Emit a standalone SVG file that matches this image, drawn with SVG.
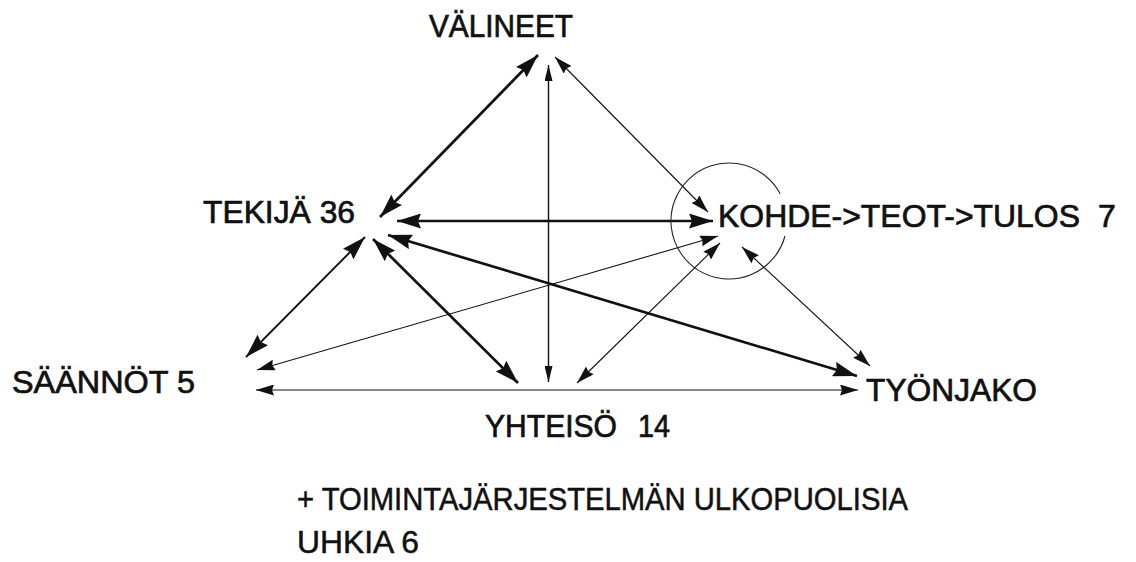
<svg xmlns="http://www.w3.org/2000/svg" width="1136" height="562" viewBox="0 0 1136 562">
  <style>
    .lbl { font-family: "Liberation Sans", Arial, sans-serif; font-size: 32px; fill: #111; stroke: #111; stroke-width: 0.7px; }
    .note { font-family: "Liberation Sans", Arial, sans-serif; font-size: 31px; fill: #111; stroke: #111; stroke-width: 0.5px; }
    .edge { stroke: #111; fill: none; }
    .heavy { stroke-width: 2.7; marker-start: url(#bigHead); marker-end: url(#bigHead); }
    .medium { stroke-width: 1.9; marker-start: url(#bigHead); marker-end: url(#bigHead); }
    .light { stroke-width: 1.1; marker-start: url(#midHead); marker-end: url(#midHead); }
    .stem { stroke-width: 1.4; marker-start: url(#slimHead); marker-end: url(#slimHead); }
    .ring { stroke: #222; stroke-width: 1.1; fill: none; }
  </style>
  <defs>
    <marker id="bigHead" viewBox="0 0 24 15" refX="24" refY="7.5" markerWidth="24" markerHeight="15" markerUnits="userSpaceOnUse" orient="auto-start-reverse">
      <path d="M0,0 L24,7.5 L0,15 L3,7.5 z" fill="#111"/>
    </marker>
    <marker id="midHead" viewBox="0 0 18 11" refX="18" refY="5.5" markerWidth="18" markerHeight="11" markerUnits="userSpaceOnUse" orient="auto-start-reverse">
      <path d="M0,0 L18,5.5 L0,11 L2,5.5 z" fill="#111"/>
    </marker>
    <marker id="slimHead" viewBox="0 0 16 8" refX="16" refY="4" markerWidth="16" markerHeight="8" markerUnits="userSpaceOnUse" orient="auto-start-reverse">
      <path d="M0,0 L16,4 L0,8 z" fill="#111"/>
    </marker>
  </defs>
  <rect width="1136" height="562" fill="#fff"/>

  <g id="connectors">
    <!-- TEKIJÄ <-> VÄLINEET -->
    <line class="edge heavy" x1="380" y1="217" x2="538" y2="55"/>
    <!-- VÄLINEET <-> YHTEISÖ -->
    <line class="edge stem" x1="548.5" y1="65" x2="548.5" y2="382"/>
    <!-- VÄLINEET <-> KOHDE -->
    <line class="edge light" x1="555" y1="57" x2="708" y2="212"/>
    <!-- TEKIJÄ <-> KOHDE -->
    <line class="edge heavy" x1="397" y1="221" x2="713" y2="221"/>
    <!-- TEKIJÄ <-> TYÖNJAKO -->
    <line class="edge heavy" x1="388" y1="235" x2="857" y2="376"/>
    <!-- SÄÄNNÖT <-> KOHDE -->
    <line class="edge light" x1="257" y1="370" x2="718" y2="236"/>
    <!-- YHTEISÖ <-> KOHDE -->
    <line class="edge light" x1="577" y1="383" x2="720" y2="243"/>
    <!-- TEKIJÄ <-> SÄÄNNÖT -->
    <line class="edge medium" x1="365" y1="237" x2="246" y2="357"/>
    <!-- TEKIJÄ <-> YHTEISÖ -->
    <line class="edge heavy" x1="373" y1="239" x2="518" y2="383"/>
    <!-- SÄÄNNÖT <-> TYÖNJAKO -->
    <line class="edge light" x1="256" y1="390" x2="858" y2="390"/>
    <!-- KOHDE <-> TYÖNJAKO -->
    <line class="edge light" x1="742" y1="247" x2="870" y2="366"/>
  </g>

  <g id="valineet">
    <text class="lbl" x="429" y="37" textLength="144" lengthAdjust="spacingAndGlyphs">VÄLINEET</text>
  </g>
  <g id="tekija">
    <text class="lbl" x="203" y="223" textLength="152" lengthAdjust="spacingAndGlyphs">TEKIJÄ 36</text>
  </g>
  <g id="kohde">
    <path class="ring" d="M785,236 A58,58 0 1 1 780.2,193.8"/>
    <text class="lbl" x="718" y="227" textLength="362" lengthAdjust="spacingAndGlyphs">KOHDE-&gt;TEOT-&gt;TULOS</text>
    <text class="lbl" x="1098" y="227">7</text>
  </g>
  <g id="saannot">
    <text class="lbl" x="12" y="393" textLength="183" lengthAdjust="spacingAndGlyphs">SÄÄNNÖT 5</text>
  </g>
  <g id="yhteiso">
    <text class="lbl" x="485" y="437" textLength="132" lengthAdjust="spacingAndGlyphs">YHTEISÖ</text>
    <text class="lbl" x="638" y="437" textLength="32" lengthAdjust="spacingAndGlyphs">14</text>
  </g>
  <g id="tyonjako">
    <text class="lbl" x="866" y="401" textLength="171" lengthAdjust="spacingAndGlyphs">TYÖNJAKO</text>
  </g>
  <g id="ulkopuoliset">
    <text class="note" x="297" y="510" textLength="611" lengthAdjust="spacingAndGlyphs">+ TOIMINTAJÄRJESTELMÄN ULKOPUOLISIA</text>
    <text class="note" x="297" y="553" textLength="122" lengthAdjust="spacingAndGlyphs">UHKIA 6</text>
  </g>
</svg>
